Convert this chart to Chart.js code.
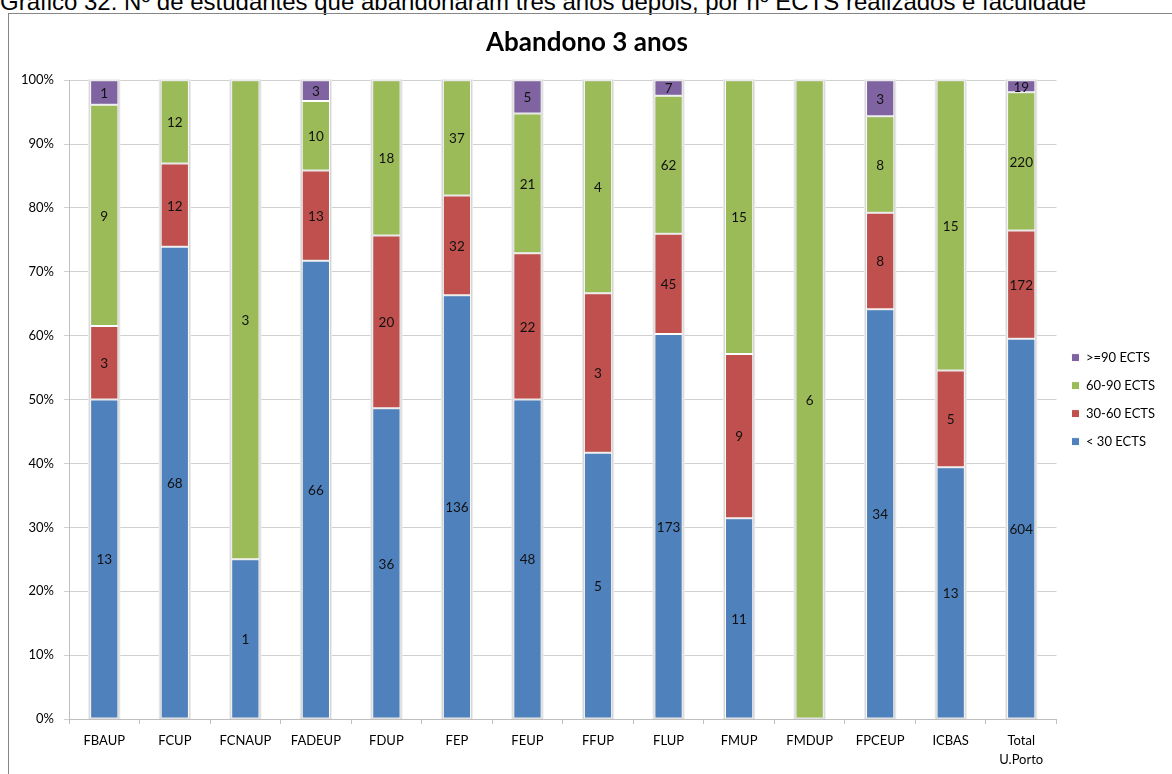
<!DOCTYPE html>
<html>
<head>
<meta charset="utf-8">
<script src="https://cdn.jsdelivr.net/npm/chart.js@4.4.1/dist/chart.umd.min.js"></script>
<style>
  html, body { margin: 0; padding: 0; background: #fff; overflow: hidden; }
  body { width: 1172px; height: 774px; position: relative; }
  #caption {
    position: absolute; left: 0; top: -10px; white-space: nowrap;
    font: 24px/24px "Liberation Sans", Arial, sans-serif; color: #000;
  }
  #frame {
    position: absolute; left: 8px; top: 13px; width: 1200px; height: 800px;
    border: 1px solid #868686; box-sizing: border-box;
  }
  #chart { position: absolute; left: 9px; top: 14px; }
</style>
</head>
<body>
<div id="caption">Gráfico 32: Nº de estudantes que abandonaram três anos depois, por nº ECTS realizados e faculdade</div>
<div id="frame"></div>
<canvas id="chart" width="1172" height="770"></canvas>
<script>
// Counts of students per faculty and ECTS band (labels on the bars)
const faculties = ['FBAUP', 'FCUP', 'FCNAUP', 'FADEUP', 'FDUP', 'FEP', 'FEUP', 'FFUP',
  'FLUP', 'FMUP', 'FMDUP', 'FPCEUP', 'ICBAS', ['Total', 'U.Porto']];
const under30 = [13, 68, 1, 66, 36, 136, 48, 5, 173, 11, 0, 34, 13, 604];
const from30to60 = [3, 12, 0, 13, 20, 32, 22, 3, 45, 9, 0, 8, 5, 172];
const from60to90 = [9, 12, 3, 10, 18, 37, 21, 4, 62, 15, 6, 8, 15, 220];
const over90 = [1, 0, 0, 3, 0, 0, 5, 0, 7, 0, 0, 3, 0, 19];
const percentTicks = [0, 10, 20, 30, 40, 50, 60, 70, 80, 90, 100];

const totals = faculties.map((_, i) => under30[i] + from30to60[i] + from60to90[i] + over90[i]);
const share = (counts) => counts.map((c, i) => (totals[i] ? (c / totals[i]) * 100 : 0));

const FONT = 'Lato, "Open Sans", sans-serif';

// light grey shadow behind each stacked column
const columnShadow = {
  id: 'columnShadow',
  beforeDatasetsDraw(chart) {
    const { ctx } = chart;
    const y = chart.scales.y;
    const base = chart.getDatasetMeta(0).data;
    ctx.save();
    base.forEach((bar, i) => {
      if (!totals[i]) return;
      const half = bar.width / 2;
      ctx.fillStyle = '#ececec';
      ctx.fillRect(bar.x - half - 2, y.getPixelForValue(100) - 1, bar.width + 4, y.getPixelForValue(0) - y.getPixelForValue(100) + 1);
      ctx.fillStyle = '#d6d6d6';
      ctx.fillRect(bar.x - half - 1, y.getPixelForValue(100), bar.width + 2, y.getPixelForValue(0) - y.getPixelForValue(100));
    });
    ctx.restore();
  },
};

// count labels in the middle of each segment
const countLabels = {
  id: 'countLabels',
  afterDatasetsDraw(chart) {
    const { ctx } = chart;
    ctx.save();
    ctx.font = '13.5px ' + FONT;
    ctx.fillStyle = '#111';
    ctx.textAlign = 'center';
    ctx.textBaseline = 'middle';
    chart.data.datasets.forEach((ds, d) => {
      chart.getDatasetMeta(d).data.forEach((bar, i) => {
        const n = ds.counts[i];
        if (!n) return;
        const { x, y, base } = bar.getProps(['x', 'y', 'base'], true);
        ctx.fillText(String(n), x, (y + base) / 2 + 1);
      });
    });
    ctx.restore();
  },
};

function series(label, counts, color) {
  return {
    label, counts,
    data: share(counts),
    backgroundColor: color,
    borderColor: '#ffffff',
    borderWidth: 1,
    borderSkipped: false,
    barPercentage: 0.4,
    categoryPercentage: 1,
  };
}

new Chart(document.getElementById('chart'), {
  type: 'bar',
  data: {
    labels: faculties,
    datasets: [
      series('< 30 ECTS', under30, '#4f81bd'),
      series('30-60 ECTS', from30to60, '#c0504d'),
      series('60-90 ECTS', from60to90, '#9bbb59'),
      series('>=90 ECTS', over90, '#8064a2'),
    ],
  },
  options: {
    responsive: false,
    animation: false,
    layout: { padding: { left: 0, right: 16, top: 0, bottom: 0 } },
    plugins: {
      title: {
        display: true,
        text: 'Abandono 3 anos',
        color: '#000',
        font: { family: FONT, size: 26, weight: 'bold', lineHeight: 1.2 },
        padding: { top: 13, bottom: 22 },
      },
      legend: {
        position: 'right',
        reverse: true,
        fullSize: false,
        labels: {
          color: '#000',
          font: { family: FONT, size: 13 },
          boxWidth: 8,
          boxHeight: 8,
          padding: 15,
        },
      },
      tooltip: { enabled: false },
    },
    scales: {
      x: {
        stacked: true,
        grid: { display: true, offset: true, drawOnChartArea: false, tickLength: 5, color: '#bfbfbf' },
        border: { color: '#bfbfbf' },
        ticks: { color: '#000', font: { family: FONT, size: 13, lineHeight: 1.5 }, padding: 7, maxRotation: 0, autoSkip: false },
        afterFit(scale) { scale.height = 65; },
      },
      y: {
        stacked: true,
        min: 0,
        max: 100,
        afterBuildTicks(scale) { scale.ticks = percentTicks.map((v) => ({ value: v })); },
        grid: { color: '#d0d0d0', tickLength: 5 },
        border: { color: '#bfbfbf' },
        ticks: { color: '#000', font: { family: FONT, size: 13 }, padding: 10, callback: (v) => v + '%' },
        afterFit(scale) { scale.width = 60; },
      },
    },
  },
  plugins: [columnShadow, countLabels],
});
</script>
</body>
</html>
